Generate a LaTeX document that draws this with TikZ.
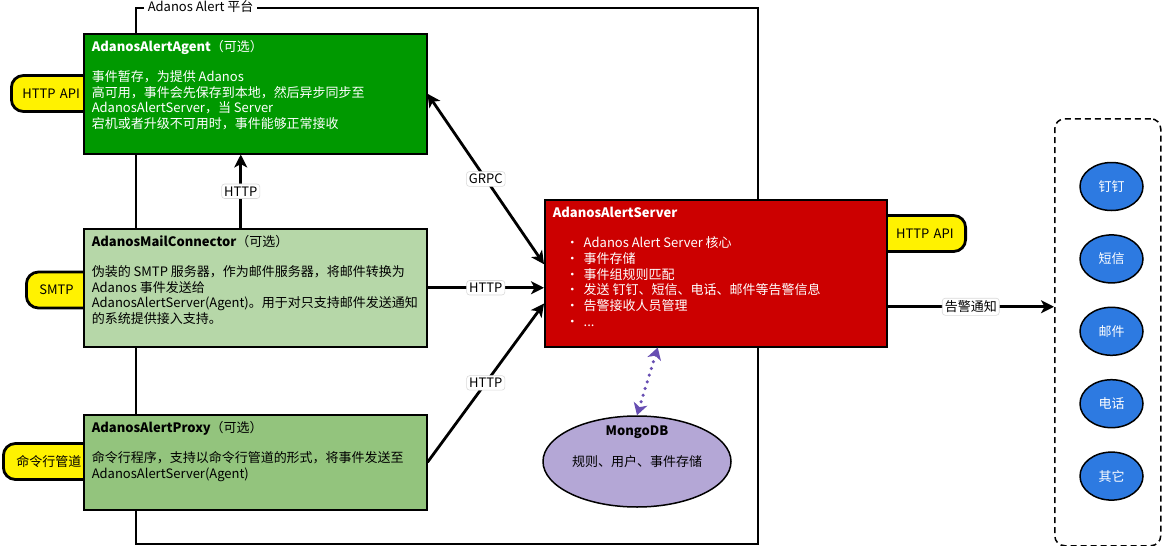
\documentclass[tikz,border=0pt]{standalone}
\usepackage{xcolor}
\usepackage{fontspec}
\setmainfont{Noto Sans CJK SC}
\usepackage{tikz}
\usetikzlibrary{arrows.meta}
\usetikzlibrary{shapes.geometric,positioning}

\definecolor{agentGreen}{RGB}{0,153,0}
\definecolor{mailGreen}{RGB}{182,215,168}
\definecolor{proxyGreen}{RGB}{147,196,125}
\definecolor{serverRed}{RGB}{204,0,0}
\definecolor{mongoPurple}{RGB}{180,167,214}
\definecolor{linkPurple}{RGB}{103,78,178}
\definecolor{channelBlue}{RGB}{45,122,225}

\newcommand{\panelText}[3]{\parbox[c][#1][t]{#2}{\raggedright #3}}
\newcommand{\srvItem}[1]{\hspace*{13pt}\makebox[18pt][l]{·}#1}

\begin{document}
\begin{tikzpicture}[x=1pt,y=-1pt,line width=1.5pt,
    >={Stealth[length=13pt,width=13pt,inset=3.5pt]},
    every node/.style={font=\fontsize{13}{15.7}\selectfont},
    panel/.style={draw,anchor=north west,inner xsep=8pt,inner ysep=7pt},
    tag/.style={draw,fill=yellow,line width=2.8pt,rounded corners=12pt,minimum height=36pt,inner ysep=0pt},
    edgeLabel/.style={fill=white,draw=black!15,line width=0.6pt,rounded corners=3pt,inner sep=2.5pt},
    arr/.style={line width=2.8pt,->},
    channel/.style={ellipse,draw,fill=channelBlue,text=white,minimum width=63pt,minimum height=48pt,inner sep=0pt}]

    \useasboundingbox (0,0) rectangle (1162,546);

    \node[draw,anchor=north west,minimum width=622pt,minimum height=536pt] (platform) at (135,7) {};
    \node[fill=white,inner xsep=4pt,inner ysep=1pt,right=8pt of platform.north west] (platformTitle) {Adanos Alert 平台};

    \node[tag,anchor=west,text width=72pt,inner xsep=11pt,align=left] (agentApi) at (10,93.5) {HTTP API};
    \node[tag,anchor=west,text width=60pt,inner xsep=13pt,align=left] (smtpTag) at (25,290) {SMTP};
    \node[tag,anchor=west,text width=70pt,inner xsep=13pt,align=left] (pipeTag) at (2,461.5) {命令行管道};
    \node[tag,anchor=east,text width=70pt,inner xsep=12pt,align=right] (serverApi) at (967,233.5) {HTTP API};

    \node[panel,fill=agentGreen,text=white] (agent) at (83,33) {\panelText{106pt}{327pt}{\textbf{AdanosAlertAgent}（可选）\\[14pt]事件暂存，为提供 Adanos\\高可用，事件会先保存到本地，然后异步同步至\\AdanosAlertServer，当 Server\\宕机或者升级不可用时，事件能够正常接收}};
    \node[panel,fill=mailGreen] (mail) at (83,228) {\panelText{104pt}{327pt}{\textbf{AdanosMailConnector}（可选）\\[14pt]伪装的 SMTP 服务器，作为邮件服务器，将邮件转换为\\Adanos 事件发送给\\AdanosAlertServer(Agent)。用于对只支持邮件发送通知\\的系统提供接入支持。}};
    \node[panel,fill=proxyGreen] (proxy) at (83,414) {\panelText{81pt}{327pt}{\textbf{AdanosAlertProxy}（可选）\\[14pt]命令行程序，支持以命令行管道的形式，将事件发送至\\AdanosAlertServer(Agent)}};
    \node[panel,fill=serverRed,text=white] (server) at (544,199) {\panelText{133pt}{326pt}{\textbf{AdanosAlertServer}\\[15pt]\srvItem{Adanos Alert Server 核心}\\\srvItem{事件存储}\\\srvItem{事件组规则匹配}\\\srvItem{发送 钉钉、短信、电话、邮件等告警信息}\\\srvItem{告警接收人员管理}\\\srvItem{...}}};

    \node[ellipse,draw,fill=mongoPurple,minimum width=188pt,minimum height=91pt,
        label={[yshift=15pt,align=center]center:\textbf{MongoDB}\\[15pt]规则、用户、事件存储}] (mongo) at (637,461.5) {};

    \node[draw,dash pattern=on 6pt off 4pt,rounded corners=10pt,anchor=north west,minimum width=106pt,minimum height=427pt] (channels) at (1054,118) {};
    \foreach \chanName [count=\i] in {钉钉,短信,邮件,电话,其它}
        \node[channel] (chan\i) at (1111.5,{114.1+72.4*\i}) {\chanName};

    \draw[arr] ([xshift=-14.5pt]mail.north) -- node[edgeLabel]{HTTP} ([xshift=-14.5pt]agent.south);
    \draw[arr,<->] (server.177) -- node[edgeLabel]{GRPC} (agent.east);
    \draw[arr] (mail.east) -- node[edgeLabel]{HTTP} (mail.east -| server.west);
    \draw[arr] (proxy.east) -- node[edgeLabel]{HTTP} (server.190);
    \draw[arr] ([yshift=-33.5pt]server.east) -- node[edgeLabel]{告警通知} ([yshift=-33.5pt]server.east -| channels.west);
    \draw[linkPurple,line width=3.5pt,dash pattern=on 0pt off 7pt,line cap=round,{Stealth[length=12pt,width=14pt,inset=3.5pt]}-{Stealth[length=12pt,width=14pt,inset=3.5pt]}] ([xshift=-58pt]server.south) -- (mongo.north);
\end{tikzpicture}
\end{document}
